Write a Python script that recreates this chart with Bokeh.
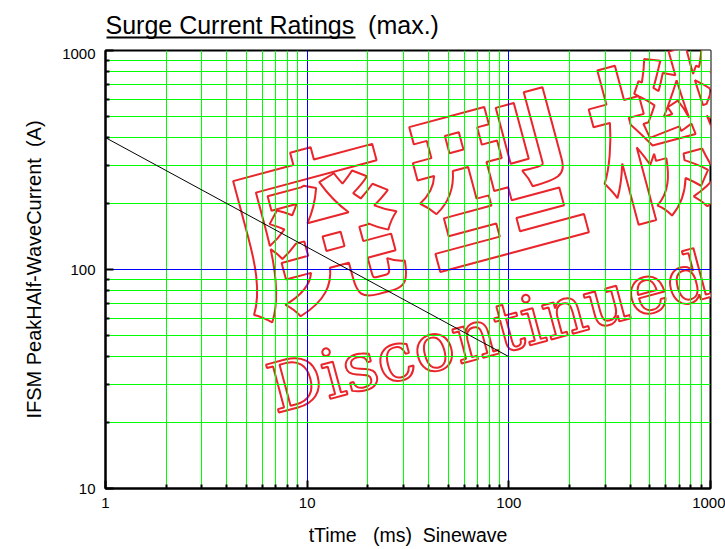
import math
from bokeh.plotting import figure
from bokeh.layouts import column
from bokeh.models import Label, BoxAnnotation, FixedTicker, PrintfTickFormatter, Range1d
from bokeh.embed import file_html
from bokeh.resources import INLINE

# ---- data ----
time_ms = [1, 100]
ifsm_a = [400, 40]

x_ticks = [1, 10, 100, 1000]
y_ticks = [10, 100, 1000]
x_minor = [m * 10 ** k for k in range(0, 3) for m in range(2, 10)]
y_minor = [m * 10 ** k for k in range(1, 3) for m in range(2, 10)]

title_main = "Surge Current Ratings"
title_rest = " \u00a0(max.)"
x_label = "tTime \u00a0 (ms) \u00a0Sinewave"
y_label = "IFSM PeakHAlf-WaveCurrent \u00a0(A)"
wm_jp = ["廃", "型", "機", "種"]
wm_en = "Discontinued model"

# ---- layout (page pixels) ----
PW, PH = 725, 549
TH = 48                               # height of the title strip
FL, FT, FR, FB = 105, 50, 710, 488    # frame edges of the chart
W, H = PW, PH - TH

# ---------------- title strip ----------------
t = figure(width=PW, height=TH, x_axis_location=None, y_axis_location=None,
           x_range=Range1d(0, 1), y_range=Range1d(0, 1),
           output_backend="svg", toolbar_location=None,
           min_border_left=FL, min_border_right=PW - FR,
           min_border_top=0, min_border_bottom=0)
t.title.visible = False
t.outline_line_color = None
t.grid.visible = False
t.background_fill_color = "white"
t.border_fill_color = "white"
# title text: middle of the line box sits ~0.37em above the baseline (page y 33)
t.add_layout(Label(x=0, y=TH - 24, x_units="screen", y_units="screen",
                   text=title_main + title_rest, text_font="Liberation Sans",
                   text_font_size="25px", text_color="black",
                   text_align="left", text_baseline="middle"))
t.add_layout(BoxAnnotation(left=1, right=250, top=TH - 36, bottom=TH - 38,
                           left_units="screen", right_units="screen",
                           top_units="screen", bottom_units="screen",
                           fill_color="black", fill_alpha=1.0, line_color=None))

# ---------------- chart ----------------
def sx(X):
    return X - FL


def sy(Y):
    return FB - Y


p = figure(width=W, height=H, x_axis_type="log", y_axis_type="log",
           x_range=Range1d(1, 1000), y_range=Range1d(10, 1000),
           output_backend="svg", toolbar_location=None,
           min_border_left=FL, min_border_right=PW - FR,
           min_border_top=FT - TH, min_border_bottom=PH - FB)
p.title.visible = False
p.background_fill_color = "white"
p.border_fill_color = "white"
p.outline_line_color = "black"
p.outline_line_width = 2
p.outline_line_alpha = 1.0

xt = FixedTicker(ticks=x_ticks, minor_ticks=x_minor)
yt = FixedTicker(ticks=y_ticks, minor_ticks=y_minor)
p.xaxis.ticker = xt
p.yaxis.ticker = yt
p.xgrid.ticker = xt
p.ygrid.ticker = yt

for g in (p.xgrid[0], p.ygrid[0]):
    g.grid_line_color = "#0000ff"
    g.grid_line_width = 1
    g.grid_line_alpha = 1.0
    g.minor_grid_line_color = "#00ff00"
    g.minor_grid_line_width = 1
    g.minor_grid_line_alpha = 1.0

for ax in (p.xaxis[0], p.yaxis[0]):
    ax.formatter = PrintfTickFormatter(format="%d")
    ax.axis_line_color = "black"
    ax.axis_line_width = 2
    ax.major_tick_line_color = "black"
    ax.minor_tick_line_color = "black"
    ax.major_tick_line_width = 2
    ax.minor_tick_line_width = 2
    ax.major_tick_in = 8
    ax.major_tick_out = 0
    ax.minor_tick_in = 4
    ax.minor_tick_out = 0
    ax.major_label_text_font = "Liberation Sans"
    ax.major_label_text_font_size = "15px"
    ax.major_label_text_color = "black"
    ax.axis_label_text_font = "Liberation Sans"
    ax.axis_label_text_font_style = "normal"
    ax.axis_label_text_color = "black"

p.xaxis.major_label_standoff = 9
p.yaxis.major_label_standoff = 10
p.xaxis.axis_label = x_label
p.xaxis.axis_label_text_font_size = "19.5px"
p.xaxis.axis_label_standoff = 13
p.yaxis.axis_label = y_label
p.yaxis.axis_label_text_font_size = "20px"
p.yaxis.axis_label_standoff = 14

p.line(time_ms, ifsm_a, line_color="black", line_width=1)

# ---- watermark (drawn beneath grid and curve) ----
ang = math.radians(15)
step = 186
cx0, cy0 = 313, 219
for i, ch in enumerate(wm_jp):
    cx = cx0 + i * step * math.cos(ang)
    cy = cy0 - i * step * math.sin(ang)
    p.add_layout(Label(x=sx(cx), y=sy(cy), x_units="screen", y_units="screen",
                       text=ch, text_font="Noto Sans CJK JP", text_font_style="bold",
                       text_font_size="170px", text_color="white",
                       text_outline_color="#e8262b", level="image",
                       text_align="center", text_baseline="middle", angle=ang))

# baseline start of the English line at page (275, 414); anchor at the line middle
en_size = 68
bx, by = 275, 414
mx = bx - 0.36 * en_size * math.sin(ang)
my = by - 0.36 * en_size * math.cos(ang)
p.add_layout(Label(x=sx(mx), y=sy(my), x_units="screen", y_units="screen",
                   text=wm_en, text_font="DejaVu Serif", text_font_size=f"{en_size}px",
                   text_color="white", text_outline_color="#e8262b", level="image",
                   text_align="left", text_baseline="middle", angle=ang))

layout = column(t, p, spacing=0)
open("out.html", "w").write(file_html(layout, INLINE))
